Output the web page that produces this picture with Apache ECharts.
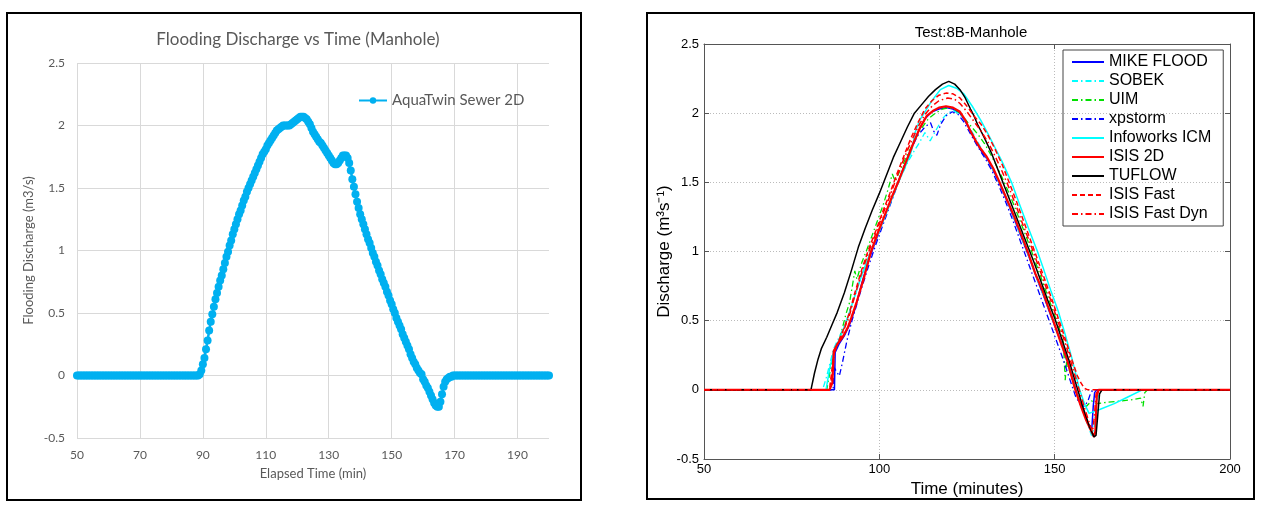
<!DOCTYPE html>
<html>
<head>
<meta charset="utf-8">
<script src="https://cdn.jsdelivr.net/npm/echarts/dist/echarts.min.js"></script>
<style>
  html, body { margin: 0; padding: 0; background: #fff; }
  #chart { width: 1261px; height: 505px; }
</style>
</head>
<body>
<div id="chart"></div>
<script>
// ---- left panel: AquaTwin Sewer 2D, one sample every half minute ----
const leftTimes = [
  50,50.5,51,51.5,52,52.5,53,53.5,54,54.5,55,55.5,56,56.5,57,57.5,58,58.5,59,59.5,
  60,60.5,61,61.5,62,62.5,63,63.5,64,64.5,65,65.5,66,66.5,67,67.5,68,68.5,69,69.5,
  70,70.5,71,71.5,72,72.5,73,73.5,74,74.5,75,75.5,76,76.5,77,77.5,78,78.5,79,79.5,
  80,80.5,81,81.5,82,82.5,83,83.5,84,84.5,85,85.5,86,86.5,87,87.5,88,88.5,89,89.5,
  90,90.5,91,91.5,92,92.5,93,93.5,94,94.5,95,95.5,96,96.5,97,97.5,98,98.5,99,99.5,
  100,100.5,101,101.5,102,102.5,103,103.5,104,104.5,105,105.5,106,106.5,107,107.5,108,108.5,109,109.5,
  110,110.5,111,111.5,112,112.5,113,113.5,114,114.5,115,115.5,116,116.5,117,117.5,118,118.5,119,119.5,
  120,120.5,121,121.5,122,122.5,123,123.5,124,124.5,125,125.5,126,126.5,127,127.5,128,128.5,129,129.5,
  130,130.5,131,131.5,132,132.5,133,133.5,134,134.5,135,135.5,136,136.5,137,137.5,138,138.5,139,139.5,
  140,140.5,141,141.5,142,142.5,143,143.5,144,144.5,145,145.5,146,146.5,147,147.5,148,148.5,149,149.5,
  150,150.5,151,151.5,152,152.5,153,153.5,154,154.5,155,155.5,156,156.5,157,157.5,158,158.5,159,159.5,
  160,160.5,161,161.5,162,162.5,163,163.5,164,164.5,165,165.5,166,166.5,167,167.5,168,168.5,169,169.5,
  170,170.5,171,171.5,172,172.5,173,173.5,174,174.5,175,175.5,176,176.5,177,177.5,178,178.5,179,179.5,
  180,180.5,181,181.5,182,182.5,183,183.5,184,184.5,185,185.5,186,186.5,187,187.5,188,188.5,189,189.5,
  190,190.5,191,191.5,192,192.5,193,193.5,194,194.5,195,195.5,196,196.5,197,197.5,198,198.5,199,199.5,
  200
];
const leftDischarge = [
  0,0,0,0,0,0,0,0,0,0,0,0,0,0,0,0,0,0,0,0,
  0,0,0,0,0,0,0,0,0,0,0,0,0,0,0,0,0,0,0,0,
  0,0,0,0,0,0,0,0,0,0,0,0,0,0,0,0,0,0,0,0,
  0,0,0,0,0,0,0,0,0,0,0,0,0,0,0,0,0,0,0.01,0.04,
  0.09,0.14,0.21,0.28,0.36,0.43,0.49,0.55,0.61,0.66,0.71,0.76,0.80,0.85,0.90,0.95,0.99,1.04,1.08,1.13,
  1.17,1.21,1.25,1.29,1.32,1.36,1.40,1.43,1.47,1.50,1.53,1.56,1.59,1.62,1.65,1.68,1.71,1.74,1.77,1.79,
  1.81,1.84,1.86,1.88,1.90,1.92,1.94,1.96,1.97,1.98,1.99,2.00,2.00,2.00,2.00,2.00,2.01,2.02,2.03,2.04,
  2.05,2.06,2.07,2.07,2.07,2.06,2.05,2.03,2.01,1.98,1.95,1.93,1.91,1.89,1.87,1.86,1.84,1.82,1.80,1.78,
  1.76,1.74,1.72,1.70,1.69,1.69,1.70,1.72,1.74,1.76,1.76,1.76,1.74,1.70,1.64,1.57,1.51,1.45,1.39,1.34,
  1.29,1.25,1.21,1.17,1.13,1.09,1.06,1.02,0.98,0.95,0.91,0.88,0.84,0.81,0.77,0.74,0.71,0.67,0.64,0.60,
  0.57,0.53,0.50,0.46,0.43,0.40,0.37,0.33,0.30,0.27,0.24,0.21,0.17,0.14,0.11,0.09,0.06,0.04,0.02,0.01,
  -0.03,-0.05,-0.08,-0.10,-0.13,-0.16,-0.19,-0.22,-0.24,-0.25,-0.25,-0.21,-0.15,-0.09,-0.05,-0.03,-0.02,-0.01,-0.01,0,
  0,0,0,0,0,0,0,0,0,0,0,0,0,0,0,0,0,0,0,0,
  0,0,0,0,0,0,0,0,0,0,0,0,0,0,0,0,0,0,0,0,
  0,0,0,0,0,0,0,0,0,0,0,0,0,0,0,0,0,0,0,0,
  0
];

// ---- right panel: Test 8B manhole, [minutes, m3/s] ----
const mikeFlood = [[50,0],[87.2,0],[87.4,0.27],[88.5,0.33],[90,0.39],[91.5,0.47],[93,0.58],[95,0.77],[97,0.94],[99,1.08],[101,1.22],[103,1.35],[105,1.48],[107,1.61],[109,1.74],[111,1.86],[113,1.96],[115,2.01],[117,2.03],[119,2.04],[121,2.03],[123,2.0],[125,1.92],[127,1.82],[129,1.73],[131,1.66],[133,1.56],[135,1.45],[137,1.33],[139,1.2],[141,1.07],[143,0.94],[145,0.8],[147,0.67],[149,0.53],[151,0.4],[153,0.26],[155,0.09],[157,-0.08],[158.5,-0.18],[160,-0.27],[160.6,-0.28],[161,-0.12],[161.4,-0.02],[162,0],[200,0]];
const sobek = [[50,0],[83.8,0],[84.8,0.08],[85.8,0.18],[87,0.3],[88.5,0.38],[90,0.46],[92,0.6],[94,0.76],[96,0.89],[98,1.02],[100,1.15],[102,1.28],[104,1.41],[106,1.53],[108,1.64],[110,1.73],[111.5,1.79],[113,1.86],[114.5,1.8],[116,1.87],[118,1.96],[119.5,2.0],[121,2.02],[123,1.99],[125,1.93],[127,1.84],[129,1.75],[131,1.66],[133,1.56],[135,1.45],[137,1.33],[139,1.2],[141,1.07],[143,0.94],[145,0.8],[147,0.67],[149,0.53],[151,0.39],[153,0.24],[155,0.08],[157,-0.08],[159,-0.22],[160.5,-0.33],[161.2,-0.28],[162,-0.08],[163,-0.01],[164,0],[200,0]];
const uim = [[50,0],[85,0],[86,0.14],[87,0.27],[88.5,0.35],[89.5,0.45],[90.5,0.55],[91.5,0.63],[92.5,0.78],[93,0.86],[93.6,0.8],[95,0.92],[97,1.05],[99,1.19],[101,1.33],[102.5,1.45],[103.7,1.56],[104.5,1.51],[106,1.59],[108,1.7],[110,1.8],[112,1.89],[114,1.96],[116,2.0],[118,2.03],[120,2.04],[122,2.02],[124,1.97],[126,1.91],[128,1.85],[130,1.78],[132,1.69],[134,1.59],[136,1.48],[138,1.36],[140,1.23],[142,1.1],[144,0.96],[146,0.82],[148,0.68],[150,0.54],[151.5,0.43],[152.5,0.34],[153,0.07],[153.4,0.2],[154.5,0.12],[156,-0.02],[157.5,-0.1],[159,-0.12],[160.5,-0.08],[162,-0.1],[165,-0.09],[169,-0.08],[172.5,-0.07],[174.5,-0.06],[175.2,-0.12],[175.7,-0.02],[176.5,0],[200,0]];
const xpstorm = [[50,0],[86.8,0],[87.2,0.16],[87.8,0.13],[88.6,0.1],[89.5,0.2],[90.8,0.36],[92.2,0.5],[93.6,0.62],[95,0.74],[97,0.9],[99,1.05],[101,1.19],[103,1.33],[105,1.47],[107,1.61],[109,1.74],[111,1.84],[113,1.9],[114.6,1.93],[115.5,1.87],[116.4,1.84],[117.5,1.92],[119,1.98],[120.8,2.01],[122.5,1.99],[124,1.94],[126,1.85],[128,1.76],[130,1.68],[132,1.59],[134,1.48],[136,1.36],[138,1.23],[140,1.09],[142,0.95],[144,0.81],[146,0.67],[148,0.53],[150,0.39],[152,0.25],[154,0.1],[156,-0.05],[157.5,-0.11],[158.5,-0.12],[159.5,-0.08],[160.3,-0.02],[161,0],[200,0]];
const infoworks = [[50,0],[84.8,0],[85.8,0.15],[87,0.28],[88.5,0.36],[90.7,0.5],[92.5,0.64],[95,0.83],[97.5,1.0],[100,1.15],[102.5,1.31],[105.4,1.5],[107.5,1.62],[108.8,1.7],[109.4,1.75],[110.2,1.86],[111.5,1.95],[113,2.01],[115,2.09],[117.4,2.17],[119.8,2.2],[122,2.18],[124.1,2.14],[126.5,2.05],[128.9,1.95],[131,1.85],[133,1.75],[135,1.65],[137.7,1.5],[140,1.34],[142.5,1.17],[145.1,1.0],[147,0.86],[149,0.71],[151,0.57],[153,0.4],[155,0.22],[157,0.01],[158.5,-0.1],[159.8,-0.17],[163,-0.14],[167,-0.1],[171,-0.05],[175,0],[200,0]];
const isis2d = [[50,0],[85.8,0],[86.6,0.05],[87,0.28],[88,0.33],[89.5,0.38],[91,0.45],[92,0.52],[93.6,0.64],[95.5,0.8],[97.5,0.99],[99.5,1.13],[101.5,1.26],[103.5,1.39],[105.5,1.51],[107.5,1.64],[109.5,1.77],[111.5,1.89],[113.5,1.98],[115.5,2.02],[117,2.04],[119,2.05],[121,2.04],[123,2.01],[124.5,1.95],[126,1.87],[127.5,1.8],[128.7,1.75],[130.5,1.69],[132.5,1.6],[134.3,1.5],[136.5,1.37],[138.5,1.25],[140.5,1.12],[142.3,1.0],[144.5,0.84],[146.5,0.72],[148,0.61],[149.6,0.5],[151.5,0.36],[153.5,0.22],[155.9,0],[157.5,-0.12],[159,-0.22],[160.3,-0.29],[161.2,-0.34],[161.6,-0.3],[162,-0.05],[162.5,0],[200,0]];
const tuflow = [[50,0],[80.5,0],[81.5,0.12],[82.5,0.22],[83.5,0.3],[85,0.38],[86.5,0.47],[88,0.56],[90,0.7],[92,0.86],[94,1.03],[96,1.17],[98,1.3],[100,1.42],[102,1.55],[104,1.68],[106,1.79],[108,1.9],[110,2.0],[112,2.06],[114,2.12],[116,2.17],[118,2.21],[119.8,2.23],[121.5,2.21],[123,2.17],[124.5,2.11],[126,2.03],[127,1.98],[128,1.92],[130,1.82],[132,1.71],[134,1.58],[136,1.45],[138,1.32],[140,1.19],[142,1.06],[144,0.93],[146,0.79],[148,0.65],[150,0.52],[152,0.37],[154,0.22],[156,0.05],[158,-0.12],[160,-0.27],[161.2,-0.34],[161.8,-0.33],[162.3,-0.18],[162.8,-0.03],[163.5,0],[200,0]];
const isisFast = [[50,0],[85.8,0],[86.5,0.15],[87.2,0.28],[88.5,0.36],[90,0.45],[91.5,0.56],[93,0.7],[95,0.87],[97,1.02],[99,1.15],[101,1.29],[103,1.42],[105,1.56],[107,1.69],[109,1.82],[111,1.93],[113,2.03],[115,2.09],[117,2.13],[119,2.145],[121,2.14],[123,2.11],[125,2.05],[127,1.98],[129,1.92],[131,1.84],[133,1.74],[135,1.63],[137,1.5],[139,1.37],[141,1.23],[143,1.09],[145,0.95],[147,0.81],[149,0.67],[151,0.52],[153,0.37],[155,0.21],[156.5,0.1],[157.5,0.05],[158.5,0.01],[159.5,0],[200,0]];
const isisFastDyn = [[50,0],[85.8,0],[86.6,0.12],[87.2,0.27],[88.5,0.35],[90,0.44],[91.5,0.54],[93,0.68],[95,0.85],[97,1.0],[99,1.13],[101,1.27],[103,1.4],[105,1.54],[107,1.67],[109,1.79],[111,1.9],[113,1.99],[115,2.05],[117,2.09],[119.5,2.11],[121.5,2.1],[123,2.07],[125,2.01],[127,1.94],[129,1.87],[131,1.79],[133,1.69],[135,1.58],[137,1.46],[139,1.33],[141,1.19],[143,1.06],[145,0.92],[147,0.78],[149,0.64],[151,0.49],[153,0.34],[155,0.17],[157,0],[158.5,-0.13],[160,-0.25],[160.8,-0.3],[161.3,-0.2],[161.8,-0.03],[162.3,0],[200,0]];

const rightNames = ["MIKE FLOOD", "SOBEK", "UIM", "xpstorm", "Infoworks ICM", "ISIS 2D", "TUFLOW", "ISIS Fast", "ISIS Fast Dyn"];

const dashDot = [6, 3, 1.5, 3];
const dashed = [5, 3];

const chart = echarts.init(document.getElementById("chart"), null, { renderer: "canvas" });

const excelGrey = "#595959";
const leftFont = "Lato, 'Open Sans', sans-serif";
const rightFont = "'Liberation Sans', Arial, sans-serif";

function rightLine(name, data, color, type, width) {
  return {
    name: name,
    type: "line",
    xAxisIndex: 1,
    yAxisIndex: 1,
    data: data,
    symbol: "none",
    showSymbol: false,
    itemStyle: { color: color },
    lineStyle: { color: color, width: width, type: type },
    animation: false
  };
}

const option = {
  backgroundColor: "#fff",
  animation: false,
  graphic: [
    { type: "rect", shape: { x: 7, y: 13, width: 574, height: 487 }, style: { fill: "none", stroke: "#000", lineWidth: 2 } },
    { type: "rect", shape: { x: 647, y: 13, width: 607, height: 486 }, style: { fill: "none", stroke: "#000", lineWidth: 2 } }
  ],
  title: [
    {
      text: "Flooding Discharge vs Time (Manhole)",
      left: 293, top: 26, textAlign: "center",
      textStyle: { fontFamily: leftFont, fontSize: 17, fontWeight: "normal", color: excelGrey }
    },
    {
      text: "Test:8B-Manhole",
      left: 966, top: 20, textAlign: "center",
      textStyle: { fontFamily: rightFont, fontSize: 15, fontWeight: "normal", color: "#000" }
    }
  ],
  legend: [
    {
      data: ["AquaTwin Sewer 2D"],
      left: 353, top: 88, padding: 5,
      itemWidth: 28, itemHeight: 8,
      selectedMode: false,
      textStyle: { fontFamily: leftFont, fontSize: 15, color: excelGrey }
    },
    {
      data: rightNames,
      orient: "vertical",
      left: 1063, top: 50,
      padding: [4, 12, 4, 8],
      itemWidth: 32, itemHeight: 14, itemGap: 3,
      selectedMode: false,
      borderColor: "#444", borderWidth: 1,
      itemStyle: { opacity: 0 },
      textStyle: { fontFamily: rightFont, fontSize: 16, color: "#000", lineHeight: 16 }
    }
  ],
  grid: [
    { left: 77, top: 63, width: 472, height: 375, outerBoundsMode: "none", containLabel: false },
    { left: 704, top: 44, width: 526, height: 415, outerBoundsMode: "none", containLabel: false }
  ],
  xAxis: [
    {
      gridIndex: 0, type: "value", min: 50, max: 200, interval: 20,
      name: "Elapsed Time (min)", nameLocation: "middle", nameGap: 29,
      nameTextStyle: { fontFamily: leftFont, fontSize: 13, color: excelGrey },
      axisLine: { show: false }, axisTick: { show: false },
      axisLabel: { fontFamily: leftFont, fontSize: 12, color: excelGrey, margin: 11, showMaxLabel: false },
      splitLine: { show: true, showMaxLine: false, lineStyle: { color: "#d9d9d9", width: 1 } }
    },
    {
      gridIndex: 1, type: "value", min: 50, max: 200, interval: 50,
      name: "Time (minutes)", nameLocation: "middle", nameGap: 19,
      nameTextStyle: { fontFamily: rightFont, fontSize: 17, color: "#000" },
      axisLine: { show: true, onZero: false, lineStyle: { color: "#555", width: 1 } },
      axisTick: { show: true, inside: true, length: 5, lineStyle: { color: "#555" } },
      axisLabel: { fontFamily: rightFont, fontSize: 13, color: "#000", margin: 4 },
      splitLine: { show: true, showMinLine: false, showMaxLine: false, lineStyle: { color: "#bbb", type: [1, 2], width: 1 } }
    },
    {
      gridIndex: 1, type: "value", min: 50, max: 200, interval: 50, position: "top",
      axisLine: { show: true, onZero: false, lineStyle: { color: "#555", width: 1 } },
      axisTick: { show: true, inside: true, length: 5, lineStyle: { color: "#555" } },
      axisLabel: { show: false }, splitLine: { show: false }
    }
  ],
  yAxis: [
    {
      gridIndex: 0, type: "value", min: -0.5, max: 2.5, interval: 0.5,
      name: "Flooding Discharge (m3/s)", nameLocation: "middle", nameGap: 42,
      nameTextStyle: { fontFamily: leftFont, fontSize: 13, color: excelGrey },
      axisLine: { show: false }, axisTick: { show: false },
      axisLabel: { fontFamily: leftFont, fontSize: 12, color: excelGrey, margin: 12 },
      splitLine: { show: true, lineStyle: { color: "#d9d9d9", width: 1 } }
    },
    {
      gridIndex: 1, type: "value", min: -0.5, max: 2.5, interval: 0.5,
      name: "Discharge (m³s⁻¹)", nameLocation: "middle", nameGap: 25,
      nameTextStyle: { fontFamily: rightFont, fontSize: 17, color: "#000" },
      axisLine: { show: true, onZero: false, lineStyle: { color: "#555", width: 1 } },
      axisTick: { show: true, inside: true, length: 5, lineStyle: { color: "#555" } },
      axisLabel: { fontFamily: rightFont, fontSize: 13, color: "#000", margin: 5 },
      splitLine: { show: true, showMinLine: false, showMaxLine: false, lineStyle: { color: "#bbb", type: [1, 2], width: 1 } }
    },
    {
      gridIndex: 1, type: "value", min: -0.5, max: 2.5, interval: 0.5, position: "right",
      axisLine: { show: true, onZero: false, lineStyle: { color: "#555", width: 1 } },
      axisTick: { show: true, inside: true, length: 5, lineStyle: { color: "#555" } },
      axisLabel: { show: false }, splitLine: { show: false }
    }
  ],
  series: [
    {
      name: "AquaTwin Sewer 2D",
      type: "line",
      xAxisIndex: 0,
      yAxisIndex: 0,
      data: leftTimes.map((t, i) => [t, leftDischarge[i]]),
      symbol: "circle",
      symbolSize: 8,
      showSymbol: true,
      showAllSymbol: true,
      itemStyle: { color: "#00b0f0" },
      lineStyle: { color: "#00b0f0", width: 2.5 },
      animation: false
    },
    rightLine("MIKE FLOOD", mikeFlood, "#0000ff", "solid", 1.5),
    rightLine("SOBEK", sobek, "#00ffff", dashDot, 1.3),
    rightLine("UIM", uim, "#00e000", dashDot, 1.3),
    rightLine("xpstorm", xpstorm, "#0000ff", dashDot, 1.3),
    rightLine("Infoworks ICM", infoworks, "#00ffff", "solid", 1.5),
    rightLine("ISIS 2D", isis2d, "#ff0000", "solid", 2.2),
    rightLine("TUFLOW", tuflow, "#000000", "solid", 1.5),
    rightLine("ISIS Fast", isisFast, "#ff0000", dashed, 1.5),
    rightLine("ISIS Fast Dyn", isisFastDyn, "#ff0000", dashDot, 1.5)
  ]
};

chart.setOption(option);
</script>
</body>
</html>
